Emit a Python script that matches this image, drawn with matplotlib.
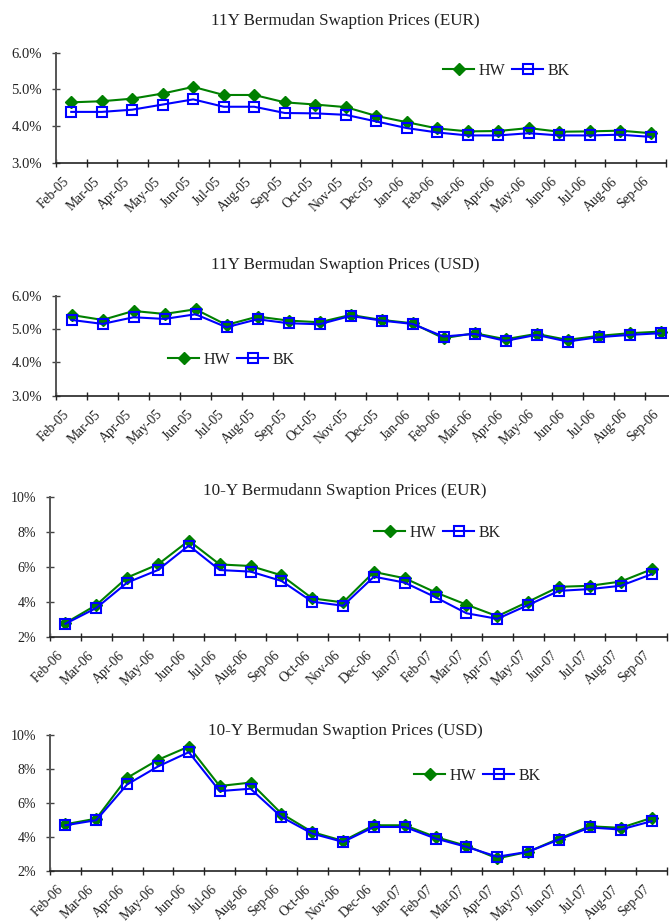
import matplotlib
matplotlib.use("Agg")
import matplotlib.pyplot as plt
import matplotlib.transforms as mtransforms
import numpy as np

plt.rcParams['font.family'] = ['Liberation Serif', 'DejaVu Serif']

W, H = 669, 923

months_a = ['Feb-05', 'Mar-05', 'Apr-05', 'May-05', 'Jun-05', 'Jul-05', 'Aug-05',
            'Sep-05', 'Oct-05', 'Nov-05', 'Dec-05', 'Jan-06', 'Feb-06', 'Mar-06',
            'Apr-06', 'May-06', 'Jun-06', 'Jul-06', 'Aug-06', 'Sep-06']
months_b = ['Feb-06', 'Mar-06', 'Apr-06', 'May-06', 'Jun-06', 'Jul-06', 'Aug-06',
            'Sep-06', 'Oct-06', 'Nov-06', 'Dec-06', 'Jan-07', 'Feb-07', 'Mar-07',
            'Apr-07', 'May-07', 'Jun-07', 'Jul-07', 'Aug-07', 'Sep-07']

# 11Y EUR
hw_eur11 = [4.65, 4.68, 4.75, 4.89, 5.07, 4.85, 4.85, 4.65, 4.59, 4.52,
            4.28, 4.11, 3.94, 3.86, 3.87, 3.95, 3.85, 3.86, 3.88, 3.81]
bk_eur11 = [4.39, 4.39, 4.45, 4.59, 4.73, 4.53, 4.53, 4.36, 4.35, 4.31,
            4.13, 3.95, 3.83, 3.75, 3.75, 3.81, 3.75, 3.75, 3.77, 3.71]
# 11Y USD
hw_usd11 = [5.43, 5.28, 5.55, 5.46, 5.60, 5.13, 5.38, 5.26, 5.21, 5.43,
            5.28, 5.18, 4.73, 4.88, 4.70, 4.86, 4.68, 4.80, 4.88, 4.93]
bk_usd11 = [5.28, 5.16, 5.36, 5.31, 5.45, 5.06, 5.30, 5.18, 5.15, 5.40,
            5.26, 5.16, 4.78, 4.86, 4.65, 4.83, 4.63, 4.76, 4.83, 4.88]
# 10Y EUR
hw_eur10 = [2.78, 3.81, 5.38, 6.13, 7.49, 6.13, 6.04, 5.51, 4.19, 3.96,
            5.70, 5.34, 4.53, 3.83, 3.17, 4.00, 4.85, 4.91, 5.15, 5.85]
bk_eur10 = [2.74, 3.64, 5.09, 5.81, 7.21, 5.81, 5.72, 5.19, 4.00, 3.77,
            5.43, 5.09, 4.25, 3.34, 3.02, 3.81, 4.62, 4.72, 4.91, 5.57]
# 10Y USD
hw_usd10 = [4.75, 5.08, 7.48, 8.54, 9.32, 7.00, 7.20, 5.38, 4.29, 3.77,
            4.69, 4.69, 4.00, 3.48, 2.74, 3.13, 3.91, 4.63, 4.54, 5.12]
bk_usd10 = [4.69, 4.99, 7.09, 8.15, 8.99, 6.70, 6.84, 5.18, 4.20, 3.71,
            4.59, 4.59, 3.91, 3.42, 2.84, 3.13, 3.85, 4.56, 4.44, 4.93]

panels = [
    # title, labels, hw, bk, yticks, fmt, (left, right, top, bottom), title_y, legend (x, y), fs
    ('11Y Bermudan Swaption Prices (EUR)', months_a, hw_eur11, bk_eur11,
     [3, 4, 5, 6], '{:.1f}%', (56, 666, 52.7, 163), 21, (443, 71), 10.5),
    ('11Y Bermudan Swaption Prices (USD)', months_a, hw_usd11, bk_usd11,
     [3, 4, 5, 6], '{:.1f}%', (56, 676, 296, 395.7), 265, (168, 360), 10.5),
    ('10-Y Bermudann Swaption Prices (EUR)', months_b, hw_eur10, bk_eur10,
     [2, 4, 6, 8, 10], '{:.0f}%', (50, 667, 496.7, 636.7), 491, (374, 533), 10),
    ('10-Y Bermudan Swaption Prices (USD)', months_b, hw_usd10, bk_usd10,
     [2, 4, 6, 8, 10], '{:.0f}%', (50, 667, 735, 871), 731, (414, 776), 10),
]

fig = plt.figure(figsize=(W / 100, H / 100), dpi=100)
green = '#008000'
blue = '#0000ff'
txt = '#222222'

for title, labels, hw, bk, yt, fmt, box, ty, leg, fs in panels:
    l, r, t, b = box
    ax = fig.add_axes([l / W, 1 - b / H, (r - l) / W, (b - t) / H])
    x = np.arange(len(labels))
    ax.plot(x, hw, color=green, lw=1.5, marker='D', ms=6, mfc=green, mec=green, label='HW')
    ax.plot(x, bk, color=blue, lw=1.5, marker='s', ms=6.5, mfc='none', mec=blue, mew=1.5, label='BK')

    ax.set_xlim(-0.5, len(labels) - 0.5)
    ax.set_ylim(yt[0], yt[-1])
    ax.set_yticks(yt)
    ax.set_yticklabels([fmt.format(v) for v in yt], fontsize=fs, color=txt)
    ax.set_xticks(x)
    ax.set_xticklabels(labels, rotation=45, ha='right', va='center',
                       rotation_mode='anchor', fontsize=9.8, color=txt)
    ax.set_xticks(np.arange(len(labels) + 1) - 0.5, minor=True)
    ax.tick_params(axis='x', which='major', length=0, pad=12)
    ax.tick_params(axis='x', which='minor', length=6, direction='inout', width=1, color='#222')
    ax.tick_params(axis='y', length=6, direction='inout', width=1, color='#444', pad=7)
    off = mtransforms.ScaledTranslation(-4 / 100, 0, fig.dpi_scale_trans)
    for lab in ax.get_xticklabels():
        lab.set_transform(lab.get_transform() + off)

    for s in ['top', 'right']:
        ax.spines[s].set_visible(False)
    ax.spines['left'].set_color('#555555')
    ax.spines['left'].set_linewidth(1.4)
    ax.spines['bottom'].set_color('#222222')
    ax.spines['bottom'].set_linewidth(1.2)
    ax.patch.set_alpha(0)

    fig.text(345 / W, 1 - ty / H, title, ha='center', va='center', fontsize=12.3, color=txt)
    ax.legend(loc='center left', bbox_to_anchor=(leg[0] / W, 1 - leg[1] / H),
              bbox_transform=fig.transFigure, ncol=2, frameon=False, fontsize=11.5,
              handlelength=1.95, handletextpad=0.25, columnspacing=0.45,
              borderpad=0, borderaxespad=0, labelcolor=txt)

fig.savefig('out.png', dpi=100)
